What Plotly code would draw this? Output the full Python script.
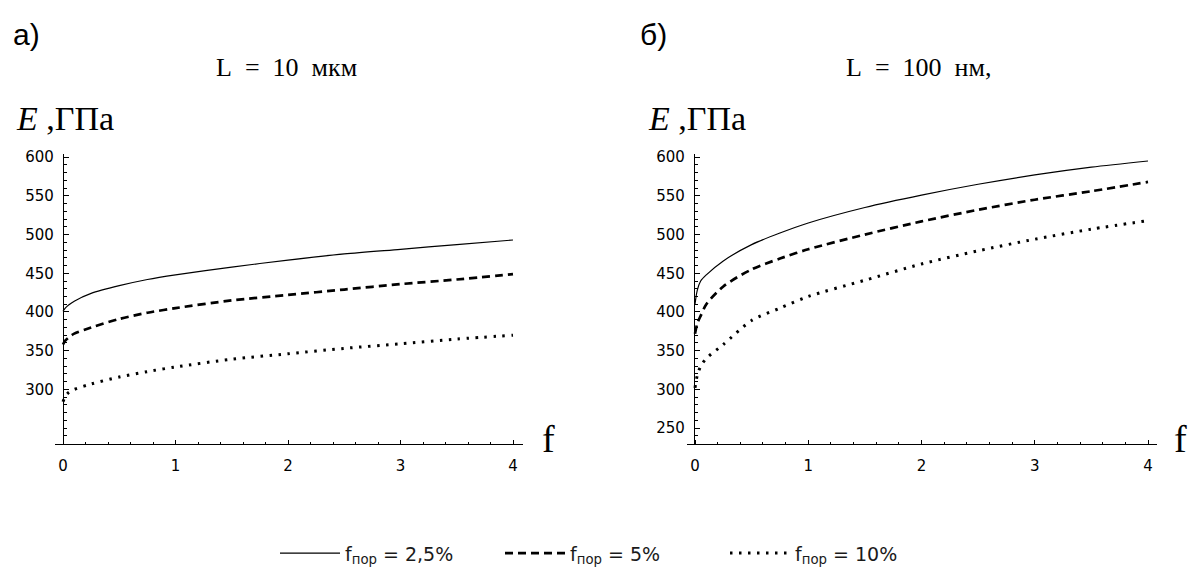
import plotly.graph_objects as go

# Volume fraction f (%) sampled along both curves
f = [0, 0.02, 0.05, 0.1, 0.25, 0.5, 0.75, 1, 1.5, 2, 2.5, 3, 3.5, 4]

# Panel а): L = 10 мкм, modulus E (GPa)
e_a_25 = [401, 405, 409, 414, 424, 434, 442, 448, 458, 467, 475, 481, 487, 493]
e_a_5 = [358, 363, 367, 372, 380, 391, 399, 405, 415, 422, 429, 436, 442, 449]
e_a_10 = [284, 291, 296, 300, 307, 316, 323, 329, 339, 346, 353, 359, 365, 370]

# Panel б): L = 100 нм, modulus E (GPa)
e_b_25 = [410, 428, 440, 448, 466, 487, 502, 515, 535, 551, 565, 577, 587, 595]
e_b_5 = [372, 385, 395, 410, 433, 455, 469, 481, 500, 517, 532, 545, 556, 568]
e_b_10 = [302, 318, 330, 340, 358, 389, 405, 420, 441, 462, 479, 494, 507, 518]

series_names = ["f<sub>пор</sub> = 2,5%", "f<sub>пор</sub> = 5%", "f<sub>пор</sub> = 10%"]
x_ticks = [0, 1, 2, 3, 4]
y_ticks_a = [300, 350, 400, 450, 500, 550, 600]
y_ticks_b = [250, 300, 350, 400, 450, 500, 550, 600]

W, H = 1195, 576


def px(x):
    return x / W


def py(y):
    return 1 - y / H


styles = [
    dict(color="black", width=1.2, dash="solid"),
    dict(color="black", width=2.7, dash="8px,5px"),
    dict(color="black", width=3.0, dash="2.5px,6.5px"),
]

fig = go.Figure()
for i, (ya, yb) in enumerate(zip([e_a_25, e_a_5, e_a_10], [e_b_25, e_b_5, e_b_10])):
    fig.add_trace(go.Scatter(x=f, y=ya, mode="lines", name=series_names[i],
                             line=dict(**styles[i], shape="spline", smoothing=0.8),
                             xaxis="x", yaxis="y", showlegend=True))
    fig.add_trace(go.Scatter(x=f, y=yb, mode="lines", name=series_names[i],
                             line=dict(**styles[i], shape="spline", smoothing=0.8),
                             xaxis="x2", yaxis="y2", showlegend=False))

tick_font = dict(family="DejaVu Sans", size=15, color="black")
y_range = [229, 603.5]

x_common = dict(showline=True, linecolor="black", linewidth=1.3, ticks="inside",
                ticklen=4, tickwidth=1.2, tickcolor="black", tickvals=x_ticks,
                showgrid=False, zeroline=False, tickfont=tick_font,
                ticklabelstandoff=7,
                minor=dict(dtick=0.2, tick0=0, ticks="inside", ticklen=2.5,
                           tickcolor="black", showgrid=False))
y_common = dict(showline=True, linecolor="black", linewidth=1.3, ticks="inside",
                ticklen=5, tickwidth=1.2, tickcolor="black", range=y_range,
                showgrid=False, zeroline=False, tickfont=tick_font, anchor="free",
                domain=[py(443), py(150)], ticklabelstandoff=6,
                minor=dict(dtick=10, tick0=0, ticks="inside", ticklen=2.5,
                           tickcolor="black", showgrid=False))

fig.update_layout(
    width=W, height=H,
    margin=dict(l=0, r=0, t=0, b=0),
    paper_bgcolor="white", plot_bgcolor="white",
    xaxis=dict(domain=[px(55), px(523)], range=[-8 / 112.5, 4 + 10 / 112.5],
               anchor="y", **x_common),
    yaxis=dict(position=px(63), tickvals=y_ticks_a, **y_common),
    xaxis2=dict(domain=[px(687), px(1157)], range=[-8 / 113.25, 4 + 9 / 113.25],
                anchor="y2", **x_common),
    yaxis2=dict(position=px(694), tickvals=y_ticks_b, **y_common),
    legend=dict(orientation="h", x=px(275), y=py(553), xanchor="left", yanchor="middle",
                font=dict(family="DejaVu Sans", size=19, color="#1a1a1a"),
                itemwidth=60, entrywidth=150, bgcolor="rgba(0,0,0,0)"),
    showlegend=True,
)

serif = "Liberation Serif"
annotations = [
    dict(text="а)", x=px(11), y=py(10), xanchor="left", yanchor="top",
         font=dict(family="Liberation Sans", size=30, color="black")),
    dict(text="б)", x=px(638), y=py(10), xanchor="left", yanchor="top",
         font=dict(family="Liberation Sans", size=30, color="black")),
    dict(text="L&nbsp; = &nbsp;10&nbsp; мкм", x=px(286), y=py(62), xanchor="center",
         yanchor="middle", font=dict(family=serif, size=26, color="black")),
    dict(text="L&nbsp; = &nbsp;100&nbsp; нм,", x=px(918), y=py(62), xanchor="center",
         yanchor="middle", font=dict(family=serif, size=26, color="black")),
    dict(text="<i>E</i> ,ГПа", x=px(14), y=py(114), xanchor="left", yanchor="middle",
         font=dict(family=serif, size=34, color="black")),
    dict(text="<i>E</i> ,ГПа", x=px(646), y=py(114), xanchor="left", yanchor="middle",
         font=dict(family=serif, size=34, color="black")),
    dict(text="f", x=px(548), y=py(438), xanchor="center", yanchor="middle",
         font=dict(family=serif, size=38, color="black")),
    dict(text="f", x=px(1180), y=py(438), xanchor="center", yanchor="middle",
         font=dict(family=serif, size=38, color="black")),
]
for a in annotations:
    a.update(xref="paper", yref="paper", showarrow=False)
fig.update_layout(annotations=annotations)

fig.write_html("out.html")
